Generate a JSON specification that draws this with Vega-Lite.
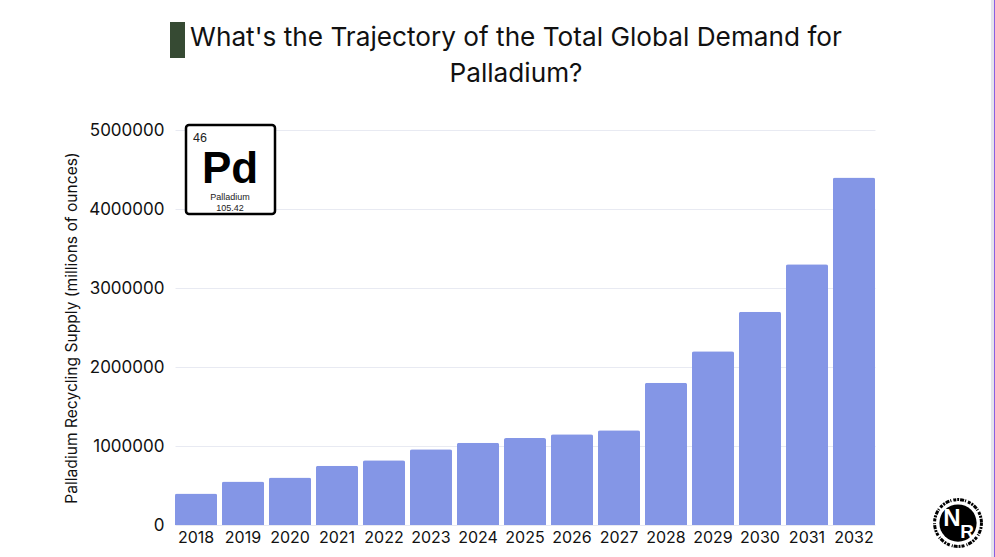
{"$schema":"https://vega.github.io/schema/vega-lite/v6.json","autosize":"none","width":700,"height":395,"background":"white","padding":{"left":175,"right":120,"top":130,"bottom":32},"title":{"text":["What's the Trajectory of the Total Global Demand for","Palladium?"],"fontSize":26.2,"font":"Inter","fontWeight":"normal","color":"#111111","anchor":"middle","dx":-9,"offset":-114.5,"lineHeight":36,"baseline":"bottom"},"config":{"view":{"stroke":null},"font":"Inter"},"resolve":{"scale":{"x":"independent"},"axis":{"x":"independent"}},"layer":[{"data":{"values":[{"year":"2018","v":400000},{"year":"2019","v":550000},{"year":"2020","v":600000},{"year":"2021","v":750000},{"year":"2022","v":820000},{"year":"2023","v":960000},{"year":"2024","v":1040000},{"year":"2025","v":1100000},{"year":"2026","v":1150000},{"year":"2027","v":1200000},{"year":"2028","v":1800000},{"year":"2029","v":2200000},{"year":"2030","v":2700000},{"year":"2031","v":3300000},{"year":"2032","v":4400000}]},"mark":{"type":"bar","color":"#8496e6","cornerRadiusEnd":2},"encoding":{"x":{"field":"year","type":"ordinal","title":null,"scale":{"paddingInner":0.106,"paddingOuter":0},"axis":{"labelAngle":0,"labelFontSize":16,"labelColor":"#111111","ticks":false,"domain":false,"labelPadding":4}},"y":{"field":"v","type":"quantitative","scale":{"domain":[0,5000000]},"title":"Palladium Recycling Supply (millions of ounces)","axis":{"values":[0,1000000,2000000,3000000,4000000,5000000],"format":"d","labelFontSize":17,"labelColor":"#111111","titleFontSize":15.6,"titleFontWeight":"normal","titleColor":"#111111","ticks":false,"domain":false,"gridColor":"#e8eaf2","labelPadding":11,"titlePadding":9}}}},{"data":{"values":[{"item":"title accent","a":-5,"b":10,"lo":5911000,"hi":6367000,"fill":"#364a33"},{"item":"edge strip","a":816,"b":819,"lo":-405000,"hi":6646000,"fill":"#e4e4ec"},{"item":"edge line","a":819,"b":820,"lo":-405000,"hi":6646000,"fill":"#8b5fe0"}]},"mark":{"type":"rect","clip":false},"encoding":{"x":{"field":"a","type":"quantitative","scale":{"domain":[0,700]},"axis":null},"x2":{"field":"b"},"y":{"field":"lo","type":"quantitative"},"y2":{"field":"hi"},"fill":{"field":"fill","type":"nominal","scale":null}}},{"data":{"values":[{"item":"element box","a":11,"b":100,"lo":3937000,"hi":5063000}]},"mark":{"type":"rect","fill":"#ffffff","stroke":"#000000","strokeWidth":2.5,"cornerRadius":3,"clip":false},"encoding":{"x":{"field":"a","type":"quantitative","scale":{"domain":[0,700]},"axis":null},"x2":{"field":"b"},"y":{"field":"lo","type":"quantitative"},"y2":{"field":"hi"}}},{"data":{"values":[{"t":"46","a":18,"v":4900000}]},"mark":{"type":"text","font":"Liberation Sans","fontSize":12.5,"color":"#222222","baseline":"middle","align":"left"},"encoding":{"x":{"field":"a","type":"quantitative","scale":{"domain":[0,700]},"axis":null},"y":{"field":"v","type":"quantitative"},"text":{"field":"t"}}},{"data":{"values":[{"t":"Pd","a":55,"v":4500000}]},"mark":{"type":"text","font":"Liberation Sans","fontWeight":"bold","fontSize":44,"color":"#000000","baseline":"middle","align":"center"},"encoding":{"x":{"field":"a","type":"quantitative","scale":{"domain":[0,700]},"axis":null},"y":{"field":"v","type":"quantitative"},"text":{"field":"t"}}},{"data":{"values":[{"t":"Palladium","a":55,"v":4150000},{"t":"105.42","a":55,"v":4010000}]},"mark":{"type":"text","font":"Liberation Sans","fontSize":9,"color":"#222222","baseline":"middle","align":"center"},"encoding":{"x":{"field":"a","type":"quantitative","scale":{"domain":[0,700]},"axis":null},"y":{"field":"v","type":"quantitative"},"text":{"field":"t"}}},{"data":{"values":[{"a":783,"v":25000}]},"mark":{"type":"point","shape":"circle","filled":false,"stroke":"#000000","strokeWidth":3,"strokeDash":[3,1,2,1,4,1,1,2],"size":2200,"opacity":1,"clip":false},"encoding":{"x":{"field":"a","type":"quantitative","scale":{"domain":[0,700]},"axis":null},"y":{"field":"v","type":"quantitative"}}},{"data":{"values":[{"a":783,"v":25000}]},"mark":{"type":"point","shape":"circle","filled":true,"color":"#000000","opacity":1,"size":1385,"clip":false},"encoding":{"x":{"field":"a","type":"quantitative","scale":{"domain":[0,700]},"axis":null},"y":{"field":"v","type":"quantitative"}}},{"data":{"values":[{"t":"N","a":777,"v":76000}]},"mark":{"type":"text","font":"Liberation Sans","fontWeight":"bold","fontSize":24,"color":"#ffffff","baseline":"middle","align":"center","clip":false},"encoding":{"x":{"field":"a","type":"quantitative","scale":{"domain":[0,700]},"axis":null},"y":{"field":"v","type":"quantitative"},"text":{"field":"t"}}},{"data":{"values":[{"t":"R","a":792,"v":-89000}]},"mark":{"type":"text","font":"Liberation Sans","fontWeight":"bold","fontSize":19,"color":"#ffffff","baseline":"middle","align":"center","clip":false},"encoding":{"x":{"field":"a","type":"quantitative","scale":{"domain":[0,700]},"axis":null},"y":{"field":"v","type":"quantitative"},"text":{"field":"t"}}}]}
